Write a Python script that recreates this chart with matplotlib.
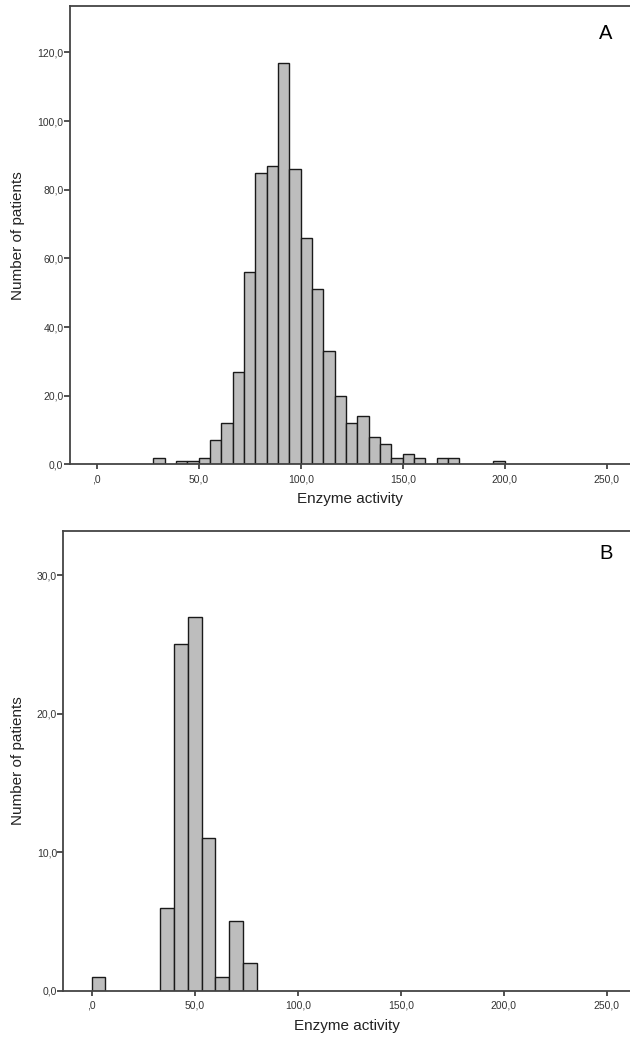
import numpy as np
import matplotlib.pyplot as plt
from matplotlib.ticker import FuncFormatter

plt.rcParams['font.family'] = ['Liberation Sans', 'DejaVu Sans']

# Panel A: histogram, SPSS bins of width 50/9 starting at 27.78
a_bin_width = 50 / 9
a_bin_start = 50 - 4 * a_bin_width
a_counts = [2, 0, 1, 1, 2, 7, 12, 27, 56, 85, 87, 117, 86, 66, 51, 33,
            20, 12, 14, 8, 6, 2, 3, 2, 0, 2, 2, 0, 0, 0, 1]

# Panel B: bins of width 20/3 starting at 0
b_bin_width = 20 / 3
b_bin_start = 0
b_counts = [1, 0, 0, 0, 0, 6, 25, 27, 11, 1, 5, 2]

x_ticks = [0, 50, 100, 150, 200, 250]
a_y_ticks = [0, 20, 40, 60, 80, 100, 120]
b_y_ticks = [0, 10, 20, 30]


def fmt_x(v, pos):
    s = ('%.1f' % v).replace('.', ',')
    if s == '0,0':
        s = ',0'  # SPSS style
    return s


def fmt_y(v, pos):
    return ('%.1f' % v).replace('.', ',')


def draw_hist(ax, start, width, counts, xlim, ylim, yticks, letter, lx, ly, ylab_x):
    counts = np.array(counts)
    lefts = start + np.arange(len(counts)) * width
    keep = counts > 0
    ax.bar(lefts[keep], counts[keep], width=width, align='edge',
           color='#bdbdbd', edgecolor='#1a1a1a', linewidth=1.0)
    ax.set_xlim(*xlim)
    ax.set_ylim(*ylim)
    ax.set_xticks(x_ticks)
    ax.set_yticks(yticks)
    ax.xaxis.set_major_formatter(FuncFormatter(fmt_x))
    ax.yaxis.set_major_formatter(FuncFormatter(fmt_y))
    ax.tick_params(axis='both', direction='out', colors='#333333',
                   labelsize=7.5, width=1.2)
    ax.tick_params(axis='x', length=3.5, pad=3.5)
    ax.tick_params(axis='y', length=4, pad=0.5)
    for s in ['left', 'bottom', 'top']:
        ax.spines[s].set_color('#444444')
        ax.spines[s].set_linewidth(1.3)
    ax.spines['right'].set_visible(False)
    ax.set_xlabel('Enzyme activity', fontsize=11, color='#222222', labelpad=6)
    ax.set_ylabel('Number of patients', fontsize=11, color='#222222')
    ax.yaxis.set_label_coords(ylab_x, 0.5)
    ax.text(lx, ly, letter, transform=ax.transAxes, fontsize=14.5,
            ha='center', va='center', color='black')


fig = plt.figure(figsize=(6.3, 10.39), dpi=100)

ax1 = fig.add_axes([0.1106, 0.5530, 0.8894, 0.4412])
draw_hist(ax1, a_bin_start, a_bin_width, a_counts, (-13.3, 261.4), (0, 133.5),
          a_y_ticks, 'A', 0.957, 0.939, -0.080)

ax2 = fig.add_axes([0.1005, 0.0465, 0.8995, 0.4427])
draw_hist(ax2, b_bin_start, b_bin_width, b_counts, (-13.8, 261.3), (0, 33.2),
          b_y_ticks, 'B', 0.958, 0.951, -0.068)

fig.savefig('out.png', dpi=100)
